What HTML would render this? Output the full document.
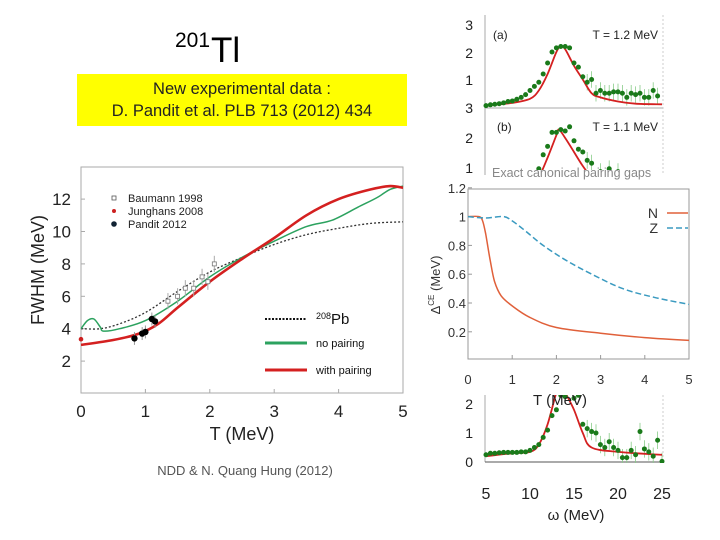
<!DOCTYPE html>
<html><head><meta charset="utf-8">
<style>
html,body{margin:0;padding:0;background:#fff;}
#root{position:relative;width:720px;height:540px;overflow:hidden;font-family:"Liberation Sans",sans-serif;}
</style></head>
<body>
<div id="root">
<svg id="svg" width="720" height="540" viewBox="0 0 720 540" xmlns="http://www.w3.org/2000/svg" font-family="Liberation Sans, sans-serif">
  <text x="175" y="47" font-size="21" fill="#000">201</text>
  <text x="211" y="62" font-size="35" fill="#000">Tl</text>
  <rect x="77" y="74" width="330" height="52" fill="#ffff00"/>
  <text x="242" y="94" font-size="16.5" text-anchor="middle" fill="#222">New experimental data :</text>
  <text x="242" y="116" font-size="16.5" text-anchor="middle" fill="#222">D. Pandit et al. PLB 713 (2012) 434</text>
  <text x="245" y="475" font-size="13" text-anchor="middle" fill="#555">NDD &amp; N. Quang Hung (2012)</text>
  <g id="main"></g>
  <g id="right"></g>
  <g id="gap"></g>
</svg>
</div>
<script>
// ===== Main FWHM chart data =====
const withPairT=[0,0.5,0.9,1.2,1.5,2,2.5,3,3.5,4,4.5,4.8,5];
const withPairW=[3.0,3.3,3.7,4.3,5.3,6.9,8.3,9.6,11,12,12.6,12.8,12.7];
const noPairT=[0,0.1,0.2,0.3,0.35,0.6,1,1.5,2,2.5,3,3.5,3.9,4.3,4.6,4.8,5];
const noPairW=[4,4.5,4.6,4.1,3.85,4.0,4.5,5.7,7.2,8.4,9.4,10.3,10.7,11.5,12.1,12.6,12.8];
const pb208T=[0,0.3,0.6,1,1.5,2,2.5,3,3.5,4,4.5,5];
const pb208W=[4,4,4.3,5,6.3,7.5,8.4,9.2,9.8,10.2,10.5,10.6];
const baumannT=[1.35,1.5,1.62,1.75,1.88,1.97,2.07];
const baumannW=[5.7,6.0,6.5,6.5,7.2,6.9,8.0];
const panditT=[0.83,0.95,1.0,1.1,1.15];
const panditW=[3.4,3.7,3.8,4.6,4.45];
const junghansT=[0];
const junghansW=[3.35];
const mainXTicks=[0,1,2,3,4,5];
const mainYTicks=[2,4,6,8,10,12];
// ===== Pairing gap chart data =====
const gapNT=[0,0.25,0.33,0.4,0.5,0.6,0.75,1.0,1.4,2,3,4,5];
const gapN=[1,1,0.97,0.88,0.7,0.55,0.45,0.38,0.3,0.23,0.19,0.16,0.14];
const gapZT=[0,0.4,0.8,1.0,1.3,1.7,2.2,2.8,3.5,4.2,5];
const gapZ=[1,0.99,1.0,0.97,0.9,0.8,0.7,0.6,0.5,0.44,0.39];
const gapXTicks=[0,1,2,3,4,5];
const gapYTicks=[0.2,0.4,0.6,0.8,1,1.2];
// ===== Strength function panels =====
const aRedW=[5,8,10,11,12,13,13.5,14,15,16,17,18,20,22,25];
const aRedS=[0.05,0.15,0.3,0.6,1.2,2.0,2.2,2.1,1.5,1.0,0.5,0.35,0.2,0.12,0.1];
const aPtW=[5,5.5,6,6.5,7,7.5,8,8.5,9,9.5,10,10.5,11,11.5,12,12.5,13,13.5,14,14.5,15,15.5,16,16.5,17,17.5,18,18.5,19,19.5,20,20.5,21,21.5,22,22.5,23,23.5,24,24.5];
const aPtS=[0.05,0.08,0.1,0.12,0.15,0.2,0.22,0.28,0.35,0.45,0.6,0.75,0.9,1.2,1.6,2.0,2.15,2.2,2.2,2.15,1.6,1.45,1.1,0.9,1.0,0.5,0.6,0.5,0.5,0.55,0.55,0.5,0.35,0.5,0.45,0.5,0.35,0.35,0.6,0.4];
const bRedW=[10,11,12,13,13.3,14,15,16,17,18];
const bRedS=[0.3,0.6,1.3,2.1,2.3,2.0,1.5,1.0,0.6,0.4];
const bPtW=[10.5,11,11.5,12,12.5,13,13.5,14,14.5,15,15.5,16,16.5,17,18,19,20];
const bPtS=[0.7,0.9,1.4,1.7,2.2,2.2,2.3,2.25,2.4,1.9,1.6,1.5,1.2,1.1,0.8,0.9,0.8];
const cRedW=[5,8,10,11,12,13,13.5,14,15,16,17,20,25];
const cRedS=[0.2,0.3,0.35,0.6,1.3,2.4,2.7,2.4,1.8,1.0,0.5,0.35,0.25];
const cPtW=[5,5.5,6,6.5,7,7.5,8,8.5,9,9.5,10,10.5,11,11.5,12,12.5,13,13.5,14,15,15.5,16,16.5,17,17.5,18,18.5,19,19.5,20,20.5,21,21.5,22,22.5,23,23.5,24,24.5,25];
const cPtS=[0.25,0.3,0.3,0.32,0.33,0.33,0.33,0.33,0.35,0.35,0.4,0.5,0.6,0.85,1.1,1.6,1.8,2.3,2.25,2.2,2.3,1.3,1.15,1.05,1.0,0.6,0.5,0.7,0.5,0.4,0.15,0.15,0.4,0.25,1.05,0.45,0.35,0.2,0.75,0.02];
const wTicks=[5,10,15,20,25];

const NS='http://www.w3.org/2000/svg';
function mk(parent,tag,attrs){const e=document.createElementNS(NS,tag);for(const k in attrs)e.setAttribute(k,attrs[k]);parent.appendChild(e);return e;}
function pathD(xs,ys,fx,fy){
 const p=xs.map((x,i)=>[fx(x),fy(ys[i])]);
 let d='M'+p[0][0].toFixed(1)+' '+p[0][1].toFixed(1);
 for(let i=0;i<p.length-1;i++){
  const p0=p[i-1]||p[i],p1=p[i],p2=p[i+1],p3=p[i+2]||p[i+1];
  const c1=[p1[0]+(p2[0]-p0[0])/6,p1[1]+(p2[1]-p0[1])/6];
  const c2=[p2[0]-(p3[0]-p1[0])/6,p2[1]-(p3[1]-p1[1])/6];
  d+=' C'+c1[0].toFixed(1)+' '+c1[1].toFixed(1)+' '+c2[0].toFixed(1)+' '+c2[1].toFixed(1)+' '+p2[0].toFixed(1)+' '+p2[1].toFixed(1);
 }
 return d;
}
function txt(parent,x,y,s,size,anchor,fill){const t=mk(parent,'text',{x:x,y:y,'font-size':size,'text-anchor':anchor||'start',fill:fill||'#000'});t.textContent=s;return t;}

// ---------- Main chart ----------
(function(){
const g=document.getElementById('main');
const X=v=>81+v*64.4, Y=v=>393.5-v*16.2;
const fr=mk(g,'rect',{x:81,y:167,width:322,height:226,fill:'none',stroke:'#aaa','stroke-width':1});

mainXTicks.forEach(v=>{const t=txt(g,X(v),417,String(v),17,'middle','#222');
 mk(g,'line',{x1:X(v),x2:X(v),y1:393,y2:389,stroke:'#aaa'});});
mainYTicks.forEach(v=>{const t=txt(g,71,Y(v)+6,String(v),17,'end','#222');
 mk(g,'line',{x1:81,x2:85,y1:Y(v),y2:Y(v),stroke:'#aaa'});});
const xt=txt(g,242,440,'T  (MeV)',18,'middle','#222');
const yt=txt(g,0,0,'FWHM  (MeV)',18,'middle','#222');yt.setAttribute('transform','translate(44,270) rotate(-90)');
const pd=mk(g,'path',{d:pathD(pb208T,pb208W,X,Y),fill:'none',stroke:'#333','stroke-width':1.3,'stroke-dasharray':'2 2'});

const gn=mk(g,'path',{d:pathD(noPairT,noPairW,X,Y),fill:'none',stroke:'#2ca25f','stroke-width':1.5});

const rd=mk(g,'path',{d:pathD(withPairT,withPairW,X,Y),fill:'none',stroke:'#d42020','stroke-width':2.6});

baumannT.forEach((t,i)=>{mk(g,'line',{x1:X(t),x2:X(t),y1:Y(baumannW[i]+0.5),y2:Y(baumannW[i]-0.5),stroke:'#aaa'});
 const s=mk(g,'rect',{x:X(t)-2,y:Y(baumannW[i])-2,width:4,height:4,fill:'#fff',stroke:'#777','stroke-width':0.8});
 });
panditT.forEach((t,i)=>{mk(g,'line',{x1:X(t),x2:X(t),y1:Y(panditW[i]+0.4),y2:Y(panditW[i]-0.4),stroke:'#999'});
 const c=mk(g,'circle',{cx:X(t),cy:Y(panditW[i]),r:3.2,fill:'#000'});
 });
junghansT.forEach((t,i)=>{const c=mk(g,'circle',{cx:X(t),cy:Y(junghansW[i]),r:2.3,fill:'#cc2020'});
 });
const l1=mk(g,'rect',{x:112,y:196,width:4,height:4,fill:'#fff',stroke:'#555','stroke-width':0.8});
const l2=mk(g,'circle',{cx:114,cy:211,r:2,fill:'#cc2020'});
const l3=mk(g,'circle',{cx:114,cy:224,r:2.8,fill:'#123'});
[['Baumann 1998',202],['Junghans 2008',215],['Pandit 2012',228]].forEach(a=>{const t=txt(g,128,a[1],a[0],11,'start','#222');});
mk(g,'line',{x1:265,x2:307,y1:319,y2:319,stroke:'#111','stroke-width':2,'stroke-dasharray':'2 1.5'});
mk(g,'line',{x1:265,x2:307,y1:343,y2:343,stroke:'#2ca25f','stroke-width':3});
mk(g,'line',{x1:265,x2:307,y1:370,y2:370,stroke:'#d42020','stroke-width':3});
const pb=txt(g,316,324,'',15,'start','#111');
const sp=mk(pb,'tspan',{'font-size':9,dy:-5});sp.textContent='208';const sp2=mk(pb,'tspan',{dy:5});sp2.textContent='Pb';
const lp1=txt(g,316,347,'no pairing',11,'start','#111');
const lp2=txt(g,316,374,'with pairing',11,'start','#111');
})();

// ---------- Right strength panels ----------
(function(){
const g=document.getElementById('right');
const X=w=>486+(w-5)*8.8;
function panel(y0,scale,redW,redS,ptW,ptS,clipY1,clipY2,name){
 const Y=v=>y0-v*scale;
 const cid='clip'+name;
 const cp=mk(g,'clipPath',{id:cid});mk(cp,'rect',{x:480,y:clipY1,width:200,height:clipY2-clipY1});
 const pg=mk(g,'g',{'clip-path':'url(#'+cid+')'});
 
 ptW.forEach((w,i)=>{if(w>16)mk(pg,'line',{x1:X(w),x2:X(w),y1:Y(ptS[i]+0.3),y2:Y(ptS[i]-0.3),stroke:'#8c8','stroke-width':0.8});});
 const r=mk(pg,'path',{d:pathD(redW,redS,X,Y),fill:'none',stroke:'#d42020','stroke-width':1.8});
 
 ptW.forEach((w,i)=>{const c=mk(pg,'circle',{cx:X(w),cy:Y(ptS[i]),r:2.5,fill:'#1a7a1a'});});
 return Y;
}
mk(g,'line',{x1:485,x2:485,y1:15,y2:175,stroke:'#aaa'});
mk(g,'line',{x1:485,x2:663,y1:108,y2:108,stroke:'#aaa'});
mk(g,'line',{x1:485,x2:485,y1:395,y2:462,stroke:'#aaa'});
mk(g,'line',{x1:485,x2:663,y1:462,y2:462,stroke:'#555'});
mk(g,'line',{x1:663,x2:663,y1:15,y2:175,stroke:'#ccc','stroke-dasharray':'2 2'});
mk(g,'line',{x1:663,x2:663,y1:395,y2:462,stroke:'#ccc','stroke-dasharray':'2 2'});
panel(107,27.5,aRedW,aRedS,aPtW,aPtS,15,108,'a');
panel(194,28,bRedW,bRedS,bPtW,bPtS,108,170,'b');
panel(462,29,cRedW,cRedS,cPtW,cPtS,395,463,'c');
[['3',30],['2',58],['1',85],['3',113],['2',143],['1',173],['2',409],['1',438],['0',467]].forEach(a=>{const t=txt(g,473,a[1],a[0],14,'end','#222');});
const ta=txt(g,493,39,'(a)',12,'start','#222');
const tb=txt(g,497,131,'(b)',12,'start','#222');
const t1=txt(g,658,39,'T = 1.2 MeV',12,'end','#222');
const t2=txt(g,658,131,'T = 1.1 MeV',12,'end','#222');
wTicks.forEach(w=>{const t=txt(g,X(w),499,String(w),16,'middle','#222');});
const wt=txt(g,576,520,'ω (MeV)',15,'middle','#222');
})();

// ---------- Pairing gap chart ----------
(function(){
const g=document.getElementById('gap');
const bg=mk(g,'rect',{x:452,y:176,width:268,height:208,fill:'#fff'});
const ttl=txt(g,492,177,'Exact canonical pairing gaps',12.5,'start','#888');
const X=v=>468+v*44.2, Y=v=>360.6-v*144;
const fr=mk(g,'rect',{x:468,y:189,width:221,height:170,fill:'none',stroke:'#999'});
gapXTicks.forEach(v=>{const t=txt(g,X(v),384,String(v),13,'middle','#333');mk(g,'line',{x1:X(v),x2:X(v),y1:359,y2:355,stroke:'#999'});});
gapYTicks.forEach(v=>{const t=txt(g,466,Y(v)+5,String(v),13,'end','#333');mk(g,'line',{x1:468,x2:472,y1:Y(v),y2:Y(v),stroke:'#999'});});
const yt=txt(g,0,0,'',13,'middle','#333');yt.setAttribute('transform','translate(440,285) rotate(-90)');

const s1=mk(yt,'tspan',{});s1.textContent='Δ';const s2=mk(yt,'tspan',{'font-size':8,dy:-6});s2.textContent='CE';const s3=mk(yt,'tspan',{dy:6});s3.textContent=' (MeV)';
const xt=txt(g,560,405,'T  (MeV)',15,'middle','#222');
const n=mk(g,'path',{d:pathD(gapNT,gapN,X,Y),fill:'none',stroke:'#e0603a','stroke-width':1.5});
const z=mk(g,'path',{d:pathD(gapZT,gapZ,X,Y),fill:'none',stroke:'#3a9ac0','stroke-width':1.5,'stroke-dasharray':'6 3'});
const ln=txt(g,658,218,'N',14,'end','#333');
const lz=txt(g,658,233,'Z',14,'end','#333');
mk(g,'line',{x1:667,x2:688,y1:213,y2:213,stroke:'#e0603a','stroke-width':1.5});
mk(g,'line',{x1:667,x2:688,y1:228,y2:228,stroke:'#3a9ac0','stroke-width':1.5,'stroke-dasharray':'6 3'});
})();
</script>
</body></html>
